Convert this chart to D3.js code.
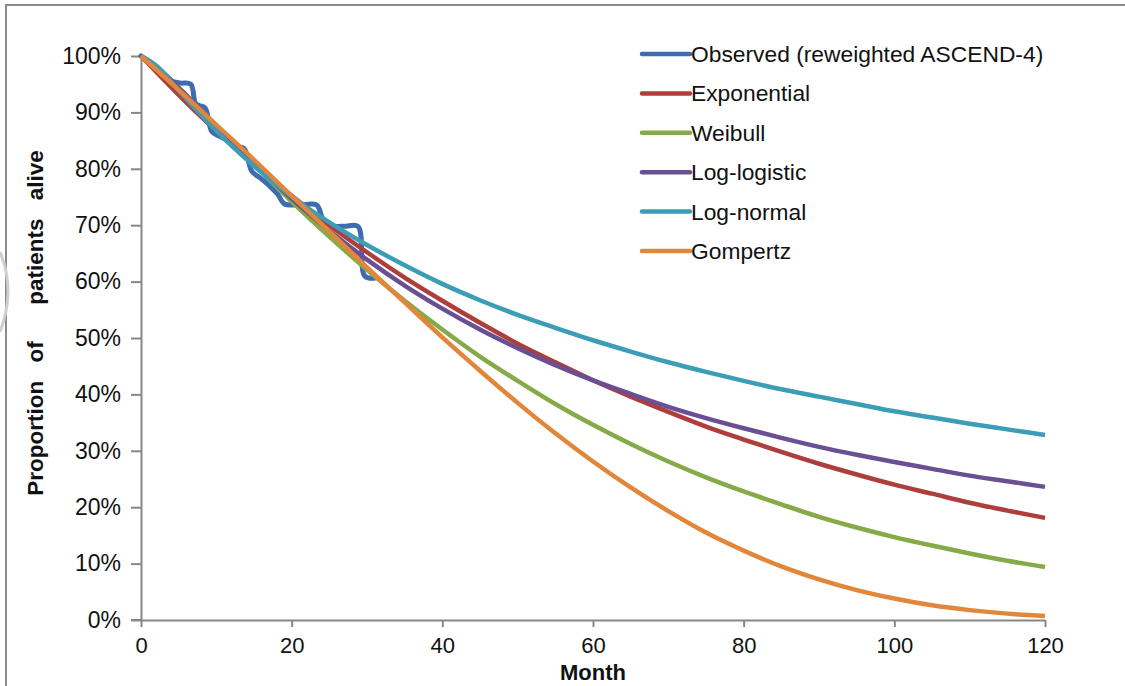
<!DOCTYPE html>
<html>
<head>
<meta charset="utf-8">
<script src="https://cdn.jsdelivr.net/npm/d3@7"></script>
<style>
  body { margin: 0; background: #fff; }
  text { font-family: "Liberation Sans", Arial, sans-serif; }
</style>
</head>
<body>
<svg id="chart" width="1125" height="686"></svg>
<script>
// Survival extrapolations (% of patients alive) by month
const months = [0, 2, 5, 10, 15, 20, 25, 30, 35, 40, 45, 50, 55, 60, 65, 70, 75, 80, 85, 90, 95, 100, 105, 110, 115, 120];

const exponential = [100, 97.2, 93.1, 86.7, 80.7, 75.2, 70.0, 65.2, 60.7, 56.6, 52.7, 49.0, 45.7, 42.5, 39.6, 36.9, 34.3, 32.0, 29.8, 27.7, 25.8, 24.0, 22.4, 20.8, 19.4, 18.1];
const weibull     = [100, 97.9, 94.2, 87.5, 80.8, 74.2, 68.0, 62.1, 56.6, 51.5, 46.7, 42.4, 38.3, 34.6, 31.2, 28.1, 25.3, 22.8, 20.5, 18.3, 16.4, 14.7, 13.2, 11.8, 10.5, 9.4];
const logLogistic = [100, 98.2, 94.4, 87.6, 80.9, 74.7, 69.0, 63.9, 59.3, 55.2, 51.5, 48.2, 45.2, 42.5, 40.1, 37.8, 35.8, 34.0, 32.3, 30.7, 29.3, 28.0, 26.8, 25.6, 24.6, 23.6];
const logNormal   = [100, 98.3, 93.9, 86.7, 80.5, 75.1, 70.5, 66.5, 62.9, 59.6, 56.7, 54.1, 51.8, 49.6, 47.6, 45.7, 44.0, 42.4, 40.9, 39.6, 38.3, 37.0, 35.9, 34.8, 33.8, 32.8];
const gompertz    = [100, 97.6, 94.0, 87.8, 81.6, 75.2, 68.9, 62.5, 56.3, 50.1, 44.2, 38.5, 33.1, 28.1, 23.5, 19.3, 15.5, 12.3, 9.5, 7.2, 5.3, 3.8, 2.6, 1.75, 1.13, 0.7];

// Observed Kaplan-Meier curve (reweighted ASCEND-4)
const obsMonths = [0, 1, 2, 3, 4, 5.2, 6.6, 7.3, 8.5, 9.4, 10.5, 11.6, 12.6, 13.7, 14.7, 16, 17.2, 18.2, 19, 21, 23.3, 24.2, 25.5, 27, 28.8, 29.7, 31];
const obsSurv   = [100, 98.9, 97.8, 96.7, 95.6, 95.2, 95.0, 91.5, 90.8, 86.6, 85.7, 85.0, 84.0, 83.6, 79.6, 78.2, 76.8, 75.4, 73.8, 73.6, 73.6, 71.0, 69.9, 69.8, 69.8, 61.0, 60.6];

const seriesNames  = ["Observed (reweighted ASCEND-4)", "Exponential", "Weibull", "Log-logistic", "Log-normal", "Gompertz"];
const seriesColors = ["#3F6CB0", "#AD3E3B", "#86AA47", "#6A4F93", "#3B9DB6", "#E2873A"];

const xTicks = [0, 20, 40, 60, 80, 100, 120];
const yTicks = [0, 10, 20, 30, 40, 50, 60, 70, 80, 90, 100];

const svg = d3.select("#chart");
const W = 1125, H = 686;
svg.append("rect").attr("width", W).attr("height", H).attr("fill", "#fff");

// outer chart frame (top and left edges visible)
svg.append("rect")
  .attr("x", 6).attr("y", 5).attr("width", W + 20).attr("height", H + 20)
  .attr("fill", "none").attr("stroke", "#8a8a8a").attr("stroke-width", 2);

// faint mark at the left edge
svg.append("path")
  .attr("d", "M0,252 Q16,290 0,332")
  .attr("fill", "none").attr("stroke", "#cfcfcf").attr("stroke-width", 3);

const x = d3.scaleLinear().domain([0, 120]).range([141, 1045]);
const y = d3.scaleLinear().domain([0, 100]).range([620, 56]);

const axisColor = "#878787";

const yAxis = svg.append("g")
  .attr("transform", `translate(${x(0)},0)`)
  .call(d3.axisLeft(y).tickValues(yTicks).tickFormat(d => d + "%").tickSize(10).tickSizeOuter(0).tickPadding(10));
const xAxis = svg.append("g")
  .attr("transform", `translate(0,${y(0)})`)
  .call(d3.axisBottom(x).tickValues(xTicks).tickSize(7).tickSizeOuter(0).tickPadding(10));

[xAxis, yAxis].forEach(g => {
  g.selectAll(".domain").attr("stroke", axisColor).attr("stroke-width", 2);
  g.selectAll(".tick line").attr("stroke", axisColor).attr("stroke-width", 2);
  g.selectAll(".tick text").attr("fill", "#111")
    .style("font-family", "'Liberation Sans', Arial, sans-serif");
});
yAxis.selectAll(".tick text").style("font-size", "23px");
xAxis.selectAll(".tick text").style("font-size", "22px");

// extend x axis line left to meet the 0% tick
svg.append("line")
  .attr("x1", x(0) - 10).attr("x2", x(0)).attr("y1", y(0)).attr("y2", y(0))
  .attr("stroke", axisColor).attr("stroke-width", 2);

// axis titles
svg.append("text")
  .attr("transform", `translate(43,${(y(0) + y(100)) / 2 - 15}) rotate(-90)`)
  .attr("text-anchor", "middle")
  .style("font-size", "22.5px").style("font-weight", "bold")
  .style("word-spacing", "12px")
  .style("white-space", "pre")
  .attr("fill", "#111")
  .text("Proportion of  patients alive");

svg.append("text")
  .attr("x", x(60)).attr("y", 680)
  .attr("text-anchor", "middle")
  .style("font-size", "22px").style("font-weight", "bold")
  .attr("fill", "#111")
  .text("Month");

// curves
const line = d3.line().x(d => x(d[0])).y(d => y(d[1]));
const fitted = [exponential, weibull, logLogistic, logNormal, gompertz];

const obsPts = obsMonths.map((m, i) => [m, obsSurv[i]]);
svg.append("path")
  .datum(obsPts)
  .attr("d", line.curve(d3.curveCatmullRom.alpha(0.5)))
  .attr("fill", "none").attr("stroke", seriesColors[0])
  .attr("stroke-width", 5).attr("stroke-linejoin", "round").attr("stroke-linecap", "round");

fitted.forEach((vals, k) => {
  const pts = months.map((m, i) => [m, vals[i]]);
  svg.append("path")
    .datum(pts)
    .attr("d", line.curve(d3.curveMonotoneX))
    .attr("fill", "none").attr("stroke", seriesColors[k + 1])
    .attr("stroke-width", 4.5).attr("stroke-linejoin", "round");
});

// legend
const legend = svg.append("g");
seriesNames.forEach((name, i) => {
  const ly = 54 + i * 39.4;
  legend.append("line")
    .attr("x1", 642).attr("x2", 690).attr("y1", ly).attr("y2", ly)
    .attr("stroke", seriesColors[i]).attr("stroke-width", 4.5).attr("stroke-linecap", "round");
  legend.append("text")
    .attr("x", 691).attr("y", ly).attr("dy", "0.35em")
    .style("font-size", "22.8px").attr("fill", "#111")
    .text(name);
});
</script>
</body>
</html>
